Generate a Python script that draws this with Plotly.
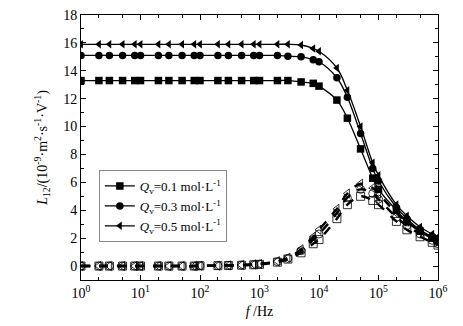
import plotly.graph_objects as go

freq = [1, 2, 3, 5, 8, 10, 20, 30, 50, 80, 100, 200, 300, 500, 800,
        1e3, 2e3, 3e3, 5e3, 8e3, 1e4, 2e4, 3e4, 5e4, 8e4,
        1e5, 2e5, 3e5, 5e5, 8e5, 1e6]

labels = ["0.1", "0.3", "0.5"]

real_01 = [13.3]*17 + [13.3, 13.2, 13.1, 12.9, 11.9, 10.6, 8.4, 6.3,
                       5.5, 4.0, 3.2, 2.5, 2.0, 1.8]
real_03 = [15.1]*17 + [15.05, 15.0, 14.8, 14.65, 13.5, 12.1, 9.5, 7.0,
                       6.1, 4.2, 3.4, 2.6, 2.1, 1.9]
real_05 = [15.9]*17 + [15.9, 15.85, 15.6, 15.4, 14.2, 12.6, 10.0, 7.4,
                       6.5, 4.4, 3.6, 2.8, 2.3, 2.1]

imag_01 = [0.0]*10 + [0.02, 0.03, 0.04, 0.06, 0.09, 0.12, 0.28, 0.5,
                      0.95, 1.6, 1.9, 3.4, 4.4, 5.0, 4.7, 4.4, 3.2, 2.6, 2.1, 1.7, 1.5]
imag_03 = [0.0]*10 + [0.02, 0.03, 0.05, 0.07, 0.1, 0.14, 0.32, 0.55,
                      1.1, 1.9, 2.3, 3.8, 4.9, 5.5, 5.2, 4.8, 3.5, 2.9, 2.3, 1.85, 1.6]
imag_05 = [0.0]*10 + [0.02, 0.03, 0.05, 0.08, 0.12, 0.15, 0.35, 0.6,
                      1.2, 2.1, 2.6, 4.1, 5.2, 5.9, 5.6, 5.2, 3.8, 3.2, 2.5, 2.0, 1.75]

xtick_vals = [1, 10, 100, 1e3, 1e4, 1e5, 1e6]
xtick_text = ["10<sup>%d</sup>" % i for i in range(7)]

FONT = "Liberation Serif, Times New Roman, serif"

fig = go.Figure()

series = [
    (real_01, imag_01, "square", "square-open"),
    (real_03, imag_03, "circle", "circle-open"),
    (real_05, imag_05, "triangle-left", "triangle-left-open"),
]

for (re, im, sym, osym), lab in zip(series, labels):
    fig.add_trace(go.Scatter(
        x=freq, y=im, mode="lines+markers", showlegend=False,
        line=dict(color="black", width=2.4, dash="dash", shape="spline"),
        marker=dict(symbol=osym, size=8, color="black",
                    line=dict(width=0.8, color="black")),
    ))

for (re, im, sym, osym), lab in zip(series, labels):
    fig.add_trace(go.Scatter(
        x=freq, y=re, mode="lines+markers",
        name="<i>Q</i><sub>v</sub>=" + lab + " mol·L<sup>-1</sup>",
        line=dict(color="black", width=1.3, shape="spline"),
        marker=dict(symbol=sym, size=7.5, color="black"),
    ))

fig.update_layout(
    width=463, height=326,
    margin=dict(l=81, r=25, t=15, b=46),
    paper_bgcolor="white", plot_bgcolor="white",
    font=dict(family=FONT, size=14, color="black"),
    legend=dict(x=0.05, y=0.415, xanchor="left", yanchor="top",
                bordercolor="#888888", borderwidth=1, bgcolor="white",
                font=dict(family=FONT, size=13), itemwidth=30,
                tracegroupgap=0),
    xaxis=dict(
        type="log", range=[0, 6], automargin=False,
        tickvals=xtick_vals, ticktext=xtick_text,
        ticks="inside", ticklen=5, tickwidth=1, tickcolor="black",
        showline=True, linecolor="black", linewidth=1, mirror="ticks",
        showgrid=False, zeroline=False,
        minor=dict(ticks="inside", ticklen=3, tickcolor="black", showgrid=False),
        title=dict(text="<i>f</i> /Hz", standoff=6, font=dict(size=14)),
        tickfont=dict(size=14),
    ),
    yaxis=dict(
        range=[-1, 18], tickvals=list(range(0, 19, 2)), automargin=False,
        ticks="inside", ticklen=5, tickwidth=1, tickcolor="black",
        showline=True, linecolor="black", linewidth=1, mirror="ticks",
        showgrid=False, zeroline=False,
        minor=dict(ticks="inside", ticklen=3, tickcolor="black", dtick=1,
                   tick0=0, showgrid=False),
        title=dict(text="<i>L</i><sub>12</sub>/(10<sup>-9</sup>·m<sup>2</sup>·s<sup>-1</sup>·V<sup>-1</sup>)",
                   standoff=12, font=dict(size=14)),
        tickfont=dict(size=14),
    ),
)

fig.write_html("out.html")
